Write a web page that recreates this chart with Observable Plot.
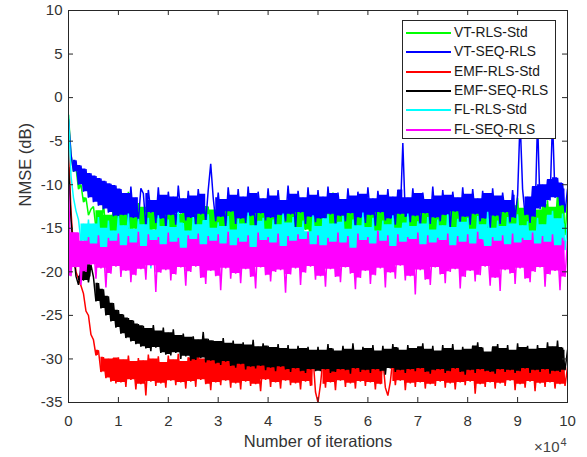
<!DOCTYPE html>
<html>
<head>
<meta charset="utf-8">
<script src="https://cdn.jsdelivr.net/npm/d3@7"></script>
<script src="https://cdn.jsdelivr.net/npm/@observablehq/plot@0.6"></script>
<style>
  html, body { margin: 0; padding: 0; background: #fff; }
  #wrap { position: relative; width: 587px; height: 457px; font-family: 'Liberation Sans', Arial, sans-serif; }
  #legend { position: absolute; left: 402px; top: 20px; width: 152px; height: 117px; background: #fff; border: 1px solid #262626; }
  .row { position: absolute; left: 0; width: 150px; height: 18px; }
  .sw { position: absolute; left: 3px; top: 8px; width: 45px; height: 2px; }
  .lbl { position: absolute; left: 51px; top: 0; line-height: 18px; font-size: 13.8px; color: #1a1a1a; white-space: nowrap; }
</style>
</head>
<body>
<div id="wrap"><div id="chart"></div><div id="legend"></div></div>
<script>
// ---- data (NMSE in dB, one sample every 500 iterations) ----
const seriesNames = ["VT-RLS-Std", "VT-SEQ-RLS", "EMF-RLS-Std", "EMF-SEQ-RLS", "FL-RLS-Std", "FL-SEQ-RLS"];
const seriesColors = ["#00ff00", "#0000ff", "#ff0000", "#000000", "#00ffff", "#ff00ff"];
const sampleStep = 500;
const xTicks = [0, 10000, 20000, 30000, 40000, 50000, 60000, 70000, 80000, 90000, 100000];
const yTicks = [-35, -30, -25, -20, -15, -10, -5, 0, 5, 10];

const vtRlsStd = [
 -2, -6.5, -8.5, -8, -10.5, -10, -12, -11.5, -13.5, -12.8,
 -12.5, -15, -13, -16, -12, -15.5, -13.5, -16.2, -12.2, -15.8,
 -11.5, -16.3, -12.8, -15.4, -10.8, -16.6, -13.2, -15.1, -12.1, -16.8,
 -12.6, -15.6, -11.9, -16.4, -13.1, -15.2, -12.3, -16.9, -11.2, -15.7,
 -12.9, -16.1, -12.2, -15.3, -13.4, -16.7, -11.8, -15.5, -12.7, -16.2,
 -12, -15.9, -13.3, -16.5, -11.6, -15.4, -12.5, -16.8, -12.9, -15.6,
 -12.4, -16.3, -11.7, -15.2, -13, -16.6, -12.2, -15.8, -11.4, -16.1,
 -12.8, -15.5, -12.1, -16.9, -13.3, -15.3, -11.9, -16.4, -12.6, -15.7,
 -11.5, -16.2, -12.9, -15.4, -12.3, -16.7, -13.1, -15.6, -11.8, -16.3,
 -12.5, -15.8, -11.3, -16.5, -12.7, -15.2, -13.2, -16.9, -12, -15.5,
 -12.6, -16.4, -11.9, -15.6, -13, -16.1, -10.9, -15.9, -12.4, -16.6,
 -13.1, -15.3, -12.2, -16.8, -11.6, -15.7, -12.8, -16.2, -12.1, -15.4,
 -11.7, -16.5, -12.9, -15.8, -12.3, -16.3, -13.2, -15.5, -11.5, -16.7,
 -12.7, -15.6, -12, -16.9, -13, -15.3, -11.8, -16.4, -12.5, -15.9,
 -12.2, -16.2, -11.4, -15.7, -12.9, -16.6, -12.4, -15.4, -13.1, -16.1,
 -11.9, -15.5, -12.6, -16.8, -11.2, -15.9, -12.8, -16.3, -12.1, -15.6,
 -12.5, -16.5, -11.7, -15.3, -13.3, -16.7, -12.3, -15.8, -11.6, -16.2,
 -12.8, -15.4, -12.2, -16.6, -11.9, -15.7, -13, -16.4, -12.4, -15.5,
 -11.5, -16.1, -12.7, -15.9, -12.1, -16.8, -11.3, -15.6, -12.9, -16.3,
 -12.3, -15.7, -11.8, -16.5, -12.6, -15.2, -11.1, -16, -10.8, -15.8,
 -12
];

const vtSeqRls = [
 -2.5, -6.5, -8.5, -7.2, -10, -7.8, -10.8, -8.2, -11.5, -8.7,
 -12, -9, -12.4, -9.3, -12.8, -9.6, -13.2, -9.9, -13.6, -10.1,
 -13.8, -10.5, -13.5, -11, -14.5, -10.2, -13.8, -11.5, -14.2, -10.4,
 -11, -14.8, -10.6, -13.2, -11.8, -14.4, -10.3, -13.9, -11.2, -15,
 -10.8, -13.5, -11.4, -14.6, -10.1, -13.3, -11.6, -14.1, -10.7, -13.8,
 -11.3, -14.7, -10.5, -13.4, -11.1, -14.3, -10.6, -7.6, -11.5, -14.2,
 -10.9, -13.7, -11.7, -14.8, -10.3, -13.1, -11.2, -14.5, -10.5, -13.9,
 -11.4, -14.4, -10.2, -13.6, -11, -15.2, -10.8, -13.3, -11.6, -14.1,
 -10.4, -13.8, -11.3, -14.7, -10.6, -13.5, -11.8, -14.2, -10.1, -13.4,
 -11.1, -14.9, -10.7, -13.2, -11.5, -14.5, -10.3, -13.7, -11.2, -14.3,
 -10.6, -13.9, -11.4, -14.6, -10.2, -13.4, -11, -14.8, -10.9, -13.6,
 -11.7, -14.2, -10.4, -13.3, -11.3, -15, -10.8, -13.8, -11.1, -14.4,
 -10.3, -13.5, -11.6, -14.7, -10.7, -13.2, -11.2, -14.1, -10.5, -13.9,
 -11.4, -14.6, -10.6, -13.4, -5.2, -13.7, -11.5, -14.3, -10.4, -13.6,
 -11, -14.8, -10.9, -13.3, -11.7, -14.5, -10.2, -13.8, -11.3, -14.2,
 -10.6, -13.5, -11.2, -14.9, -10.8, -13.1, -11.5, -14.4, -10.3, -13.7,
 -11.1, -14.6, -10.5, -13.4, -11.6, -14.2, -10.7, -13.9, -11, -15.1,
 -10.4, -13.6, -11.3, -14.5, -10.9, -13.2, -11.8, -14.3, -10.6, -13.8,
 -11.2, -2.5, -10.5, -13.5, -11.4, -14.4, -10.2, -13.7, -2.5, -12.8,
 -10, -12.6, -9.4, -11.8, -2.5, -11.5, -9.2, -12.4, -9.8, -13.2,
 -10.5
];

const emfRlsStd = [
 -6, -13, -17.5, -20, -20.8, -21.6, -22.5, -24.5, -25, -27.2,
 -27.8, -29.6, -29, -31.5, -29.8, -32.2, -30, -32.6, -29.9, -32.8,
 -29.8, -32.7, -30.1, -33.2, -29.6, -32.4, -30.3, -33.5, -29.9, -32.9,
 -30.2, -34.2, -29.5, -32.6, -30, -33.1, -29.7, -32.8, -30.4, -33.3,
 -29.6, -32.5, -30.1, -33, -29.4, -32.7, -30.3, -33.4, -29.8, -32.6,
 -29.9, -33.2, -29.2, -32.4, -30, -32.9, -29.5, -33.6, -29.8, -32.7,
 -30.1, -33, -29.6, -32.5, -30.3, -33.3, -29.8, -32.8, -30, -33.5,
 -29.7, -32.6, -30.2, -33.1, -29.5, -32.9, -30.4, -33.7, -29.9, -32.4,
 -30, -33.2, -29.6, -32.7, -30.3, -33.4, -29.8, -32.5, -30.1, -33,
 -29.5, -32.8, -30.2, -33.5, -29.9, -32.6, -30.4, -33.1, -29.7, -33.8,
 -35, -32.9, -30, -33.3, -29.6, -32.7, -30.3, -33.6, -29.8, -32.5,
 -30.1, -33.2, -29.4, -32.8, -30.2, -33.4, -29.7, -32.6, -30, -33.1,
 -29.8, -32.7, -30.3, -33.5, -29.6, -32.9, -30.1, -33.3, -34.2, -32.6,
 -29.9, -33, -30.4, -32.5, -29.5, -33.6, -30.2, -32.8, -29.8, -33.2,
 -30, -32.7, -29.7, -33.4, -30.3, -32.9, -29.6, -33.1, -30.1, -32.6,
 -29.4, -33.3, -30.2, -32.8, -29.9, -33.5, -30.4, -32.7, -29.7, -33,
 -30.1, -32.6, -29.5, -34, -30.3, -32.9, -29.8, -33.2, -30, -32.7,
 -29.6, -33.4, -30.2, -32.8, -29.9, -33.1, -30.4, -32.5, -29.7, -33.6,
 -30, -32.9, -29.5, -33.3, -30.3, -32.6, -29.8, -33.7, -30.1, -32.8,
 -29.6, -33.2, -30.2, -32.7, -29.9, -33.4, -30.3, -32.9, -29.4, -33.1,
 -31
];

const emfSeqRls = [
 -8, -14, -17.5, -20.5, -21.5, -19.5, -21, -18.8, -21.2, -19.2,
 -20.6, -23.4, -21.3, -24.2, -22, -25, -22.8, -25.7, -23.6, -26.4,
 -24.4, -27.1, -24.9, -27.6, -25.3, -28, -25.6, -28.3, -26, -28.6,
 -26.2, -28.8, -26.5, -29.1, -26.1, -28.7, -26.8, -29.3, -26.4, -29.5,
 -27, -29.6, -26.6, -29.3, -27.3, -30, -27.1, -29.7, -27.5, -30.2,
 -27.4, -30.1, -27.8, -29.9, -26.9, -30.4, -27.7, -30.2, -27.9, -30.5,
 -28, -30.7, -27.6, -30.3, -28.2, -30.8, -27.9, -31, -28.3, -30.6,
 -28.1, -31.2, -28.4, -30.9, -27.8, -31.1, -28.6, -30.8, -28.2, -31.3,
 -28.5, -31, -28.7, -31.4, -28.3, -30.9, -28.8, -31.2, -28.4, -31.5,
 -28.9, -31.1, -28.5, -31.4, -28.8, -31.6, -28.6, -31.2, -29, -31.4,
 -28.6, -31.4, -29, -31.2, -28.3, -31.6, -28.8, -31.5, -29.1, -31.2,
 -28.5, -31.3, -28.9, -31.7, -28.2, -31.1, -29, -31.5, -28.6, -31.3,
 -28.8, -31.6, -28.4, -31.2, -29.1, -31.4, -28.5, -31.8, -28.9, -31.1,
 -28.3, -31.5, -28.7, -31.3, -29, -31.6, -28.4, -31.2, -28.8, -31.4,
 -28.6, -31.1, -28.2, -31.5, -28.9, -31.7, -28.5, -31.3, -29.1, -31.2,
 -28.4, -31.6, -28.8, -31.4, -28.3, -31.1, -29, -31.5, -28.6, -31.8,
 -28.9, -31.3, -28.5, -31.6, -28.1, -31.2, -28.7, -31.4, -29.2, -31.5,
 -28.6, -31.7, -28.3, -31.2, -28.8, -31.5, -28.4, -31.3, -29, -31.6,
 -28.2, -31.4, -28.7, -31.1, -28.5, -31.6, -28.9, -31.3, -28.4, -31.5,
 -28.8, -31.2, -28.1, -31.7, -28.6, -31.4, -27.9, -31.5, -28.7, -31.3,
 -29
];

const flRlsStd = [
 -2, -9, -11.5, -13, -14, -16.5, -14.5, -18, -14, -18.5,
 -14.5, -18.5, -13.7, -17.8, -15, -19.2, -14.1, -18.1, -15.3, -17.4,
 -13.6, -18.9, -14.7, -17.6, -13.3, -19.4, -15.1, -18.3, -13.9, -17.9,
 -14.6, -18.6, -13.8, -19.6, -15.2, -17.7, -13.5, -18.8, -14.8, -18.2,
 -14, -19.1, -14.9, -17.5, -13.1, -18.7, -14.4, -19.3, -15.3, -18,
 -13.7, -18.4, -14.6, -19.5, -14.1, -17.8, -13.4, -18.9, -15, -18.3,
 -14.3, -19.2, -14.8, -17.6, -13.6, -18.6, -15.2, -19.7, -13.9, -18.1,
 -14.5, -18.5, -13.2, -19, -14.7, -17.9, -14.2, -18.7, -13.8, -19.4,
 -15.1, -18.2, -14, -19.8, -14.6, -17.7, -13.3, -18.9, -14.4, -18.4,
 -13.7, -19.3, -14.9, -18, -14.1, -18.8, -15.4, -19.1, -13.5, -17.8,
 -14.8, -18.6, -13.9, -19.5, -13.4, -18.2, -14.5, -17.9, -14.3, -19.2,
 -13.6, -18.4, -15.1, -19.6, -14, -17.6, -14.7, -18.8, -13.2, -18.1,
 -14.9, -19.3, -13.8, -18.5, -15.3, -17.8, -14.1, -19.7, -14.6, -18.3,
 -13.5, -18.9, -15, -17.7, -14.4, -19.1, -13.3, -18.6, -14.8, -18,
 -14.2, -19.4, -14.5, -18.2, -13.7, -19, -15.2, -17.9, -14, -18.7,
 -14.7, -18.1, -13.4, -19.5, -14.9, -18.4, -13.9, -17.6, -14.3, -19.2,
 -13.8, -18.8, -15.1, -18, -13.6, -19.6, -14.6, -18.5, -13.1, -17.8,
 -15, -19.1, -14.1, -18.3, -14.8, -17.7, -13.7, -19.3, -14.5, -18.6,
 -13.4, -18.2, -14.7, -19.8, -14.2, -18.4, -15.3, -17.9, -13.8, -19,
 -14.6, -18.7, -13.5, -17.6, -13, -18.1, -13.9, -19.2, -13.3, -17.5,
 -14.5
];

const flSeqRls = [
 -10, -20.5, -15.5, -19.5, -15.5, -21.5, -16.5, -20, -16, -19.2,
 -16.8, -20.8, -15.8, -19.6, -17.2, -21.8, -16.1, -20.2, -16.5, -19.4,
 -15.6, -20.6, -17, -19.9, -15.9, -21.2, -16.7, -20.4, -15.4, -19.7,
 -17.1, -20.9, -15.7, -19.3, -16.4, -22.3, -16, -20.1, -16.9, -19.8,
 -15.5, -21, -16.6, -20.3, -16.1, -19.5, -17.3, -21.6, -15.8, -20,
 -16.3, -19.4, -15.6, -20.7, -16.9, -21.4, -15.9, -19.9, -16.5, -20.5,
 -15.7, -22.1, -16.8, -19.6, -15.4, -20.8, -17, -20.2, -16.1, -21.3,
 -16.6, -19.7, -15.8, -20.6, -17.2, -21.9, -15.5, -19.5, -16.4, -20.4,
 -16, -21.1, -16.7, -20, -15.6, -19.8, -17.1, -22.4, -15.9, -20.3,
 -16.5, -19.6, -15.7, -21.5, -16.3, -20.1, -15.4, -19.4, -16.9, -20.9,
 -15.8, -20.5, -17, -21.7, -16.1, -19.7, -16.6, -20.6, -15.5, -21.2,
 -16.7, -19.5, -15.9, -20.2, -17.3, -22, -15.6, -20.7, -16.4, -19.9,
 -16, -21.4, -16.8, -20.4, -15.3, -19.6, -16.5, -21.8, -15.8, -20.1,
 -17.1, -20.8, -15.7, -19.3, -16.6, -21, -16, -20.5, -16.3, -22.6,
 -15.5, -19.8, -16.9, -20.9, -15.8, -21.5, -16.7, -19.5, -16.1, -20.3,
 -16.4, -21.3, -15.6, -20, -17, -19.7, -15.9, -21.9, -16.6, -20.6,
 -15.7, -19.9, -16.8, -21.1, -15.4, -20.4, -16.3, -19.4, -17.1, -21.6,
 -16, -20.7, -16.5, -22.2, -15.8, -19.8, -16.9, -20.2, -15.6, -21.4,
 -16.7, -19.6, -16.1, -20.8, -16.4, -21.2, -15.5, -20, -16.8, -19.5,
 -15.9, -21.7, -16.6, -20.3, -15.7, -19.9, -17, -22.1, -16.1, -20.6,
 -16.5
];

const seriesValues = [vtRlsStd, vtSeqRls, emfRlsStd, emfSeqRls, flRlsStd, flSeqRls];

// ---- layout ----
const W = 587, H = 457;
const mL = 68, mR = 20, mT = 10, mB = 55;
const xDom = [0, 100000], yDom = [-35, 10];
const axisColor = "#262626";
const tickPx = 5;
const tickLenY = tickPx * (yDom[1] - yDom[0]) / (H - mT - mB);
const tickLenX = tickPx * (xDom[1] - xDom[0]) / (W - mL - mR);

// Solid core of a dense noisy trace: the range every neighbouring segment passes through.
function core(vals) {
  const n = vals.length;
  const segLo = [], segHi = [];
  for (let i = 0; i < n; i++) {
    const a = vals[i], b = i + 1 < n ? vals[i + 1] : vals[i];
    segLo.push(Math.min(a, b));
    segHi.push(Math.max(a, b));
  }
  return vals.map((_, i) => {
    const j0 = Math.max(0, i - 1), j1 = Math.min(n - 1, i + 1);
    let lo = -Infinity, hi = Infinity;
    for (let j = j0; j <= j1; j++) { lo = Math.max(lo, segLo[j]); hi = Math.min(hi, segHi[j]); }
    if (lo > hi) { const m = (lo + hi) / 2; lo = m; hi = m; }
    return {x: i * sampleStep, lo, hi};
  });
}

const seriesMarks = seriesValues.flatMap((vals, k) => [
  Plot.areaY(core(vals), {
    x: "x", y1: "lo", y2: "hi",
    curve: "step-after",
    fill: seriesColors[k],
    clip: true
  }),
  Plot.lineY(vals, {
    x: (d, i) => i * sampleStep,
    y: d => d,
    stroke: seriesColors[k],
    strokeWidth: 1.5,
    strokeLinejoin: "miter",
    strokeMiterlimit: 2,
    clip: true
  })
]);

const chart = Plot.plot({
  width: W, height: H,
  marginLeft: mL, marginRight: mR, marginTop: mT, marginBottom: mB,
  x: {domain: xDom},
  y: {domain: yDom},
  style: {fontFamily: "'Liberation Sans', Arial, sans-serif", fontSize: "15px", color: axisColor, background: "white", overflow: "visible"},
  marks: [
    ...seriesMarks,
    Plot.frame({stroke: axisColor, strokeWidth: 1}),
    Plot.ruleX(xTicks, {x: d => d, y1: yDom[0], y2: yDom[0] + tickLenY, stroke: axisColor}),
    Plot.ruleX(xTicks, {x: d => d, y1: yDom[1], y2: yDom[1] - tickLenY, stroke: axisColor}),
    Plot.ruleY(yTicks, {y: d => d, x1: xDom[0], x2: xDom[0] + tickLenX, stroke: axisColor}),
    Plot.ruleY(yTicks, {y: d => d, x1: xDom[1], x2: xDom[1] - tickLenX, stroke: axisColor}),
    Plot.axisX({ticks: xTicks, tickSize: 0, tickPadding: 13, tickFormat: d => String(d / 1e4), label: null, fontSize: 15, fill: "#333"}),
    Plot.axisY({ticks: yTicks, tickSize: 0, tickPadding: 6, tickFormat: d => String(d), label: null, fontSize: 15, fill: "#333"}),
    Plot.text(["Number of iterations"], {frameAnchor: "bottom", dy: 44, fontSize: 16.5, fill: "#333"}),
    Plot.text(["NMSE (dB)"], {frameAnchor: "left", dx: -43, rotate: -90, fontSize: 16.5, fill: "#333"}),
    Plot.text(["×10"], {frameAnchor: "bottom-right", textAnchor: "end", dx: -8, dy: 49, fontSize: 15, fill: "#444"}),
    Plot.text(["4"], {frameAnchor: "bottom-right", textAnchor: "end", dx: -1, dy: 43, fontSize: 11, fill: "#444"})
  ]
});
document.getElementById("chart").appendChild(chart);

// ---- legend ----
const legend = document.getElementById("legend");
seriesNames.forEach((name, k) => {
  const row = document.createElement("div");
  row.className = "row";
  row.style.top = Math.round(3 + k * 19.3) + "px";
  const sw = document.createElement("div");
  sw.className = "sw";
  sw.style.background = seriesColors[k];
  const t = document.createElement("div");
  t.className = "lbl";
  t.textContent = name;
  row.appendChild(sw);
  row.appendChild(t);
  legend.appendChild(row);
});
</script>
</body>
</html>
